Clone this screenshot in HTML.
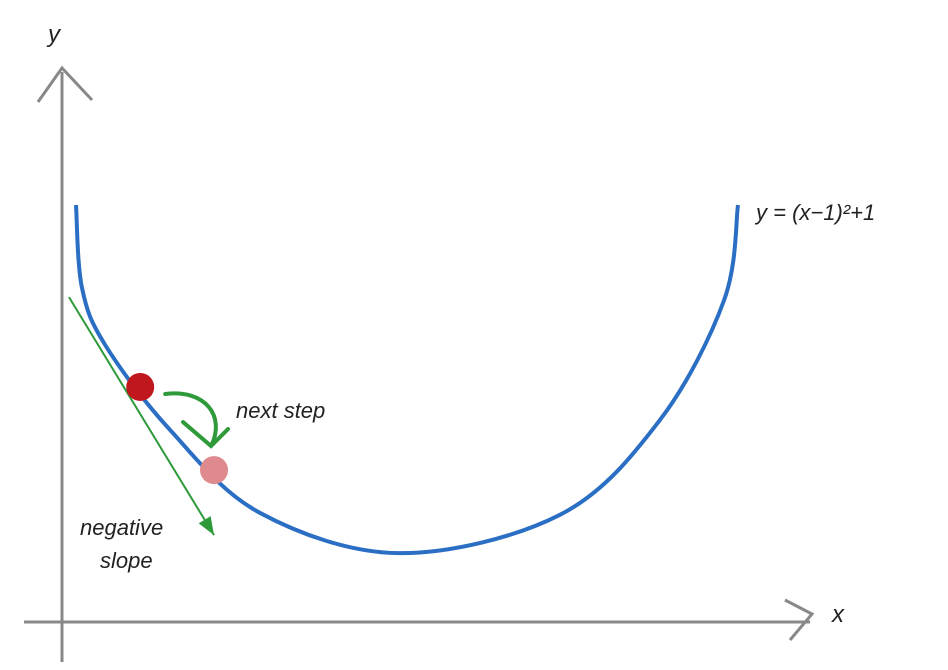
<!DOCTYPE html>
<html><head><meta charset="utf-8"><style>
html,body{margin:0;padding:0;background:#fff;}
svg{display:block;}
text{font-family:"Liberation Sans",sans-serif;font-style:italic;fill:#222;}
</style></head><body>
<svg id="chart" width="948" height="670" viewBox="0 0 948 670" xmlns="http://www.w3.org/2000/svg">
<g id="axes">
<line x1="62" y1="72" x2="62" y2="662" stroke="#888" stroke-width="3"/>
<polyline points="38,102 62,68 92,100" fill="none" stroke="#888" stroke-width="3"/>
<line x1="24" y1="622" x2="810" y2="622" stroke="#888" stroke-width="3"/>
<polyline points="785,600 812,614 790,640" fill="none" stroke="#888" stroke-width="3"/>
<text x="48" y="42" font-size="24">y</text>
<text x="832" y="622" font-size="24">x</text>
</g>
<g id="marks"></g>
<text x="756" y="220" font-size="22">y = (x−1)²+1</text>
<text x="236" y="418" font-size="22">next step</text>
<text x="80" y="535" font-size="22">negative</text>
<text x="100" y="568" font-size="22">slope</text>
</svg>
<script>
// curve samples (data units: x 0..10, y 0..10)
const curveX = [0.0, 0.09, 0.44, 1.42, 2.78, 4.89, 7.31, 8.82, 9.79, 10.0];
const curveY = [10.0, 7.8, 6.28, 4.02, 1.81, 0.74, 1.76, 4.28, 7.47, 10.0];
const pointX = [0.97, 2.085];   // current point, next step
const pointY = [5.16, 2.95];
const tangentX = [-0.106, 2.085];
const tangentY = [7.55, 1.22];

function sx(v){ return 76 + 66.2 * v; }
function sy(v){ return 581 - 37.6 * v; }

const g = document.getElementById('marks');
const NS = 'http://www.w3.org/2000/svg';

const pts = curveX.map((x,i)=>[sx(x), sy(curveY[i])]);
let d = 'M' + pts[0][0] + ',' + pts[0][1];
for (let i=0;i<pts.length-1;i++){
  const p0=pts[Math.max(0,i-1)], p1=pts[i], p2=pts[i+1], p3=pts[Math.min(pts.length-1,i+2)];
  const c1=[p1[0]+(p2[0]-p0[0])/6, p1[1]+(p2[1]-p0[1])/6];
  const c2=[p2[0]-(p3[0]-p1[0])/6, p2[1]-(p3[1]-p1[1])/6];
  d += ' C'+c1[0]+','+c1[1]+' '+c2[0]+','+c2[1]+' '+p2[0]+','+p2[1];
}
const curve = document.createElementNS(NS,'path');


curve.setAttribute('d', d);
curve.setAttribute('fill','none');
curve.setAttribute('stroke','#2a6fc4');
curve.setAttribute('stroke-width','4');
g.appendChild(curve);

const tx1=sx(tangentX[0]), ty1=sy(tangentY[0]), tx2=sx(tangentX[1]), ty2=sy(tangentY[1]);
const tl = document.createElementNS(NS,'line');


tl.setAttribute('x1',tx1); tl.setAttribute('y1',ty1);
tl.setAttribute('x2',tx2); tl.setAttribute('y2',ty2);
tl.setAttribute('stroke','#2e9a3a'); tl.setAttribute('stroke-width','2');
g.appendChild(tl);
const ang=Math.atan2(ty2-ty1,tx2-tx1);
const ah = document.createElementNS(NS,'polygon');


const L=18,W=7;
const bx=tx2-L*Math.cos(ang), by=ty2-L*Math.sin(ang);
ah.setAttribute('points', tx2+','+ty2+' '+(bx+W*Math.sin(ang))+','+(by-W*Math.cos(ang))+' '+(bx-W*Math.sin(ang))+','+(by+W*Math.cos(ang)));
ah.setAttribute('fill','#2e9a3a');
g.appendChild(ah);

const colors=['#c0161e','#df8a8e'];
const names=['current-point','next-point'];
pointX.forEach((x,i)=>{
  const c=document.createElementNS(NS,'circle');
  
  
  c.setAttribute('cx',sx(x)); c.setAttribute('cy',sy(pointY[i])); c.setAttribute('r','14');
  c.setAttribute('fill',colors[i]);
  g.appendChild(c);
});

const ax=sx(pointX[0])+25, ay=sy(pointY[0])+7;
const ex=sx(pointX[1])-3, ey=sy(pointY[1])-24;
const arr=document.createElementNS(NS,'path');


arr.setAttribute('d','M'+ax+','+ay+' C'+(ax+40)+','+(ay-5)+' '+(ex+15)+','+(ey-30)+' '+ex+','+ey
  +' M'+(ex-28)+','+(ey-24)+' L'+ex+','+ey+' L'+(ex+17)+','+(ey-17));
arr.setAttribute('fill','none');
arr.setAttribute('stroke','#2e9a3a');
arr.setAttribute('stroke-width','4');
arr.setAttribute('stroke-linecap','round');
g.appendChild(arr);
</script>
</body></html>
